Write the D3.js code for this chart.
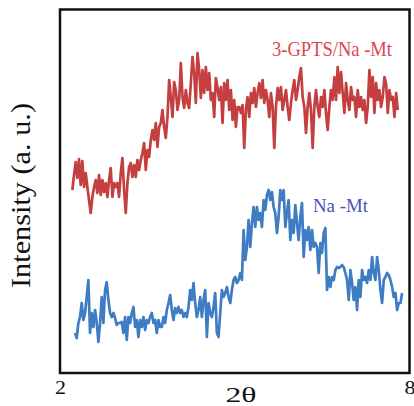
<!DOCTYPE html>
<html>
<head>
<meta charset="utf-8">
<script src="https://cdn.jsdelivr.net/npm/d3@7"></script>
<style>
  html, body { margin: 0; padding: 0; background: #fff; }
  svg { display: block; }
  text { font-family: "Liberation Serif", "Times New Roman", serif; }
</style>
</head>
<body>
<svg id="chart" width="414" height="406"></svg>
<script>
// XRD patterns, scanned with a constant 2θ step
const scanStep = 0.02865;
const gptsStart = 2.212;
const naStart = 2.258;

// 3-GPTS/Na-Mt intensity (a.u.)
const gptsIntensity = [
  182,197,210,194,213,187,211,185,199,185,
  172,159,175,185,192,179,197,177,192,180,
  189,175,192,204,175,189,185,189,175,199,
  214,182,159,189,205,209,195,207,195,212,
  202,212,219,229,202,222,215,232,242,232,
  249,225,245,249,262,245,234,255,292,275,
  255,290,282,262,272,309,275,264,282,269,
  264,289,315,299,269,319,302,274,302,279,
  305,282,299,272,279,255,294,284,272,285,
  249,289,272,292,262,282,252,
  272,245,265,265,259,267,224,262,275,255,
  279,269,284,265,279,289,274,292,269,282,
  272,255,279,265,224,265,284,272,285,262,
  272,282,265,252,269,282,292,272,282,295,
  304,275,265,239,265,279,262,224,265,282,
  265,255,275,265,282,259,242,265,282,272,
  295,272,305,279,300,279,259,289,272,262,
  285,272,275,255,282,265,275,262,272,249,
  265,302,275,295,259,289,272,282,265,275,
  295,289,259,282,272,275,255,279,262
];

// Na-Mt intensity (a.u.)
const naIntensity = [
  39,34,49,55,69,52,59,75,92,39,
  59,45,62,49,30,49,75,49,82,90,
  72,59,55,59,54,47,49,49,50,39,
  55,32,55,49,59,65,45,52,35,52,
  45,55,42,52,49,55,59,49,52,39,
  52,45,45,55,49,62,69,77,62,52,
  64,59,65,59,62,55,59,55,65,82,
  72,89,69,55,62,75,55,72,82,35,
  69,59,55,65,79,39,35,59,82,75,
  79,85,75,69,82,92,95,89,92,
  99,92,142,112,125,152,125,149,165,145,
  165,152,159,145,172,162,177,182,172,180,
  165,159,139,155,182,172,182,145,159,172,
  132,152,139,167,149,132,155,169,115,142,
  132,145,122,142,125,129,125,99,129,119,
  139,144,82,95,85,95,92,102,105,104,
  105,107,105,99,92,72,102,89,72,85,
  62,92,75,102,92,95,89,102,92,115,
  99,92,115,102,82,69,92,95,99,97,
  92,85,75,79,62,69,69,79
];

const xTicks = [2, 8];
const xTitle = "2θ";
const yTitle = "Intensity (a. u.)";
const seriesNames = ["3-GPTS/Na -Mt", "Na -Mt"];

const svg = d3.select("#chart");
const frame = { left: 60, right: 409.5, top: 9.5, bottom: 373 };

const x = d3.scaleLinear().domain([2, 8]).range([frame.left, frame.right]);
const y = d3.scaleLinear().domain([0, 363]).range([frame.bottom - 1, frame.top - 0.5]);

const toPoints = (start, values) => values.map((v, i) => [start + i * scanStep, v]);

const line = d3.line()
  .x(d => x(d[0]))
  .y(d => y(d[1]));

svg.append("path")
  .datum(toPoints(gptsStart, gptsIntensity))
  .attr("d", line)
  .attr("fill", "none")
  .attr("stroke", "#C43F3F")
  .attr("stroke-width", 2.7)
  .attr("stroke-linejoin", "round");

svg.append("path")
  .datum(toPoints(naStart, naIntensity))
  .attr("d", line)
  .attr("fill", "none")
  .attr("stroke", "#3E7CC3")
  .attr("stroke-width", 2.7)
  .attr("stroke-linejoin", "round");

// plot frame
svg.append("rect")
  .attr("x", frame.left)
  .attr("y", frame.top)
  .attr("width", frame.right - frame.left)
  .attr("height", frame.bottom - frame.top)
  .attr("fill", "none")
  .attr("stroke", "#111")
  .attr("stroke-width", 2.5);

// x axis: end labels only
const xAxis = svg.append("g")
  .attr("transform", `translate(0,${frame.bottom})`)
  .call(d3.axisBottom(x).tickValues(xTicks).tickSize(0).tickPadding(8).tickFormat(d3.format("d")));
xAxis.select(".domain").remove();
xAxis.selectAll("text")
  .attr("font-size", 19)
  .attr("font-family", "'Liberation Serif', 'Times New Roman', serif")
  .attr("textLength", 11)
  .attr("lengthAdjust", "spacingAndGlyphs")
  .attr("fill", "#111");

svg.append("text")
  .attr("x", 241)
  .attr("y", 402)
  .attr("text-anchor", "middle")
  .attr("font-size", 22)
  .attr("textLength", 31)
  .attr("lengthAdjust", "spacingAndGlyphs")
  .attr("fill", "#111")
  .text(xTitle);

svg.append("text")
  .attr("transform", "translate(30,195.5) rotate(-90)")
  .attr("text-anchor", "middle")
  .attr("font-size", 27)
  .attr("textLength", 185)
  .attr("lengthAdjust", "spacingAndGlyphs")
  .attr("fill", "#111")
  .text(yTitle);

// series labels
svg.append("text")
  .attr("x", 272)
  .attr("y", 56)
  .attr("font-size", 21)
  .attr("textLength", 120)
  .attr("lengthAdjust", "spacingAndGlyphs")
  .attr("fill", "#DF4650")
  .text(seriesNames[0]);

svg.append("text")
  .attr("x", 313)
  .attr("y", 212)
  .attr("font-size", 19)
  .attr("textLength", 55)
  .attr("lengthAdjust", "spacingAndGlyphs")
  .attr("fill", "#4A52B4")
  .text(seriesNames[1]);
</script>
</body>
</html>
